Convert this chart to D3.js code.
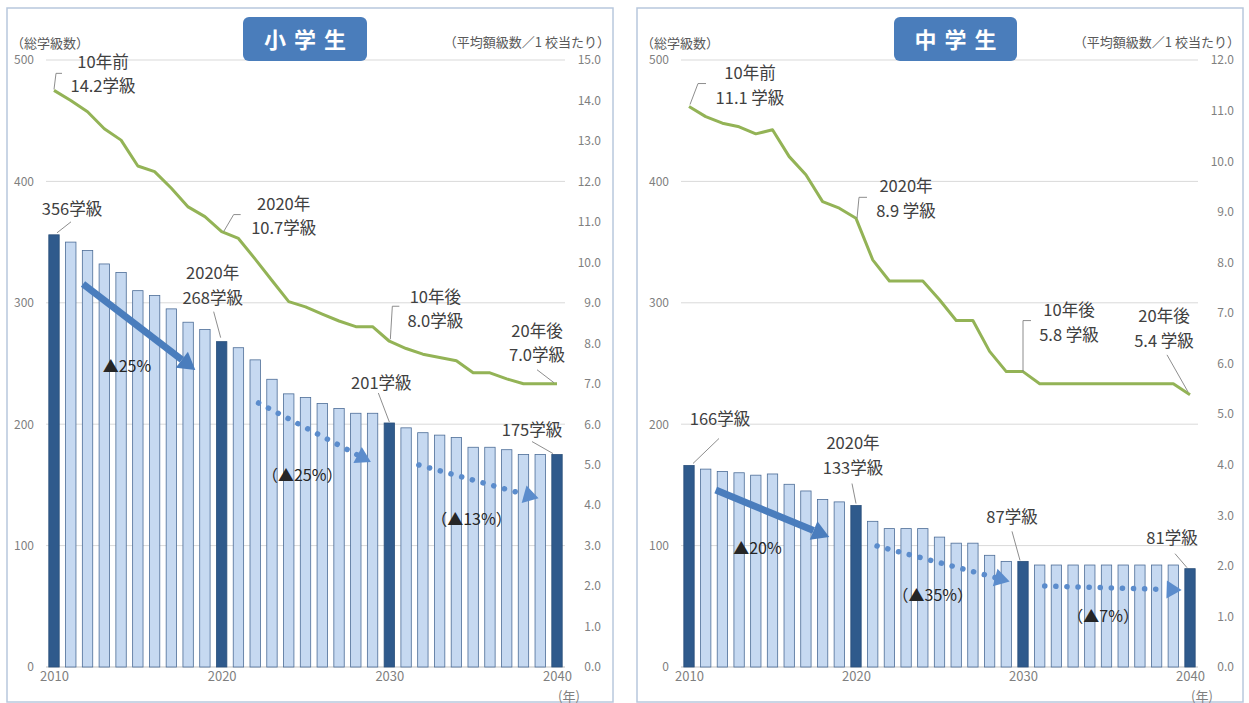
<!DOCTYPE html>
<html>
<head>
<meta charset="utf-8">
<script src="https://cdn.jsdelivr.net/npm/d3@7/dist/d3.min.js"></script>
<style>
  body { margin: 0; background: #fff; }
  svg text { font-family: "Noto Sans CJK JP", "Noto Sans", sans-serif; }
</style>
</head>
<body>
<svg id="chart" width="1249" height="703"></svg>
<script>
// ---- data ----
var years = [2010, 2011, 2012, 2013, 2014, 2015, 2016, 2017, 2018, 2019,
             2020, 2021, 2022, 2023, 2024, 2025, 2026, 2027, 2028, 2029,
             2030, 2031, 2032, 2033, 2034, 2035, 2036, 2037, 2038, 2039, 2040];

// 小学生: total classes (bars) and average classes per school (line)
var elemTotal = [356, 350, 343, 332, 325, 310, 306, 295, 284, 278,
                 268, 263, 253, 237, 225, 222, 217, 213, 209, 209,
                 201, 197, 193, 191, 189, 181, 181, 179, 175, 175, 175];
var elemAverage = [14.25, 14.0, 13.72, 13.3, 13.02, 12.38, 12.24, 11.83, 11.37, 11.13,
                   10.76, 10.59, 10.08, 9.55, 9.03, 8.9, 8.72, 8.55, 8.41, 8.41,
                   8.05, 7.87, 7.73, 7.65, 7.57, 7.27, 7.27, 7.12, 7.0, 7.0, 7.0];

// 中学生
var juniorTotal = [166, 163, 161, 160, 158, 159, 150.5, 145, 138, 136,
                   133, 120, 114, 114, 114, 107, 102, 102, 92, 87,
                   87, 84, 84, 84, 84, 84, 84, 84, 84, 84, 81];
var juniorAverage = [11.08, 10.88, 10.75, 10.68, 10.54, 10.62, 10.09, 9.73, 9.2, 9.07,
                     8.87, 8.05, 7.63, 7.63, 7.63, 7.26, 6.85, 6.85, 6.24, 5.84,
                     5.84, 5.6, 5.6, 5.6, 5.6, 5.6, 5.6, 5.6, 5.6, 5.6, 5.38];

var highlightYears = [2010, 2020, 2030, 2040];
var xTickYears = [2010, 2020, 2030, 2040];
var totalTicks = [0, 100, 200, 300, 400, 500];
var elemAvgTicks = [0, 1, 2, 3, 4, 5, 6, 7, 8, 9, 10, 11, 12, 13, 14, 15];
var juniorAvgTicks = [0, 1, 2, 3, 4, 5, 6, 7, 8, 9, 10, 11, 12];

// callout texts
var elemCallouts = [
  { year: 2010, on: "line", text: ["10年前", "14.2学級"] },
  { year: 2010, on: "bar",  text: ["356学級"] },
  { year: 2020, on: "bar",  text: ["2020年", "268学級"] },
  { year: 2020, on: "line", text: ["2020年", "10.7学級"] },
  { year: 2030, on: "line", text: ["10年後", "8.0学級"] },
  { year: 2040, on: "line", text: ["20年後", "7.0学級"] },
  { year: 2030, on: "bar",  text: ["201学級"] },
  { year: 2040, on: "bar",  text: ["175学級"] }
];
var juniorCallouts = [
  { year: 2010, on: "line", text: ["10年前", "11.1 学級"] },
  { year: 2020, on: "line", text: ["2020年", "8.9 学級"] },
  { year: 2030, on: "line", text: ["10年後", "5.8 学級"] },
  { year: 2040, on: "line", text: ["20年後", "5.4 学級"] },
  { year: 2010, on: "bar",  text: ["166学級"] },
  { year: 2020, on: "bar",  text: ["2020年", "133学級"] },
  { year: 2030, on: "bar",  text: ["87学級"] },
  { year: 2040, on: "bar",  text: ["81学級"] }
];

// trend arrows: [startYear, startTotal, endYear, endTotal], label and its spot
var elemTrends = [
  { from: [2011.73, 315.5], to: [2018.43, 244.6], dotted: false, label: "▲25%",   at: [2014.35, 249] },
  { from: [2022.2, 217.5],  to: [2028.9, 168.9],  dotted: true,  label: "（▲25%）", at: [2024.8, 159] },
  { from: [2031.76, 166.4], to: [2038.9, 139],    dotted: true,  label: "（▲13%）", at: [2034.9, 122.5] }
];
var juniorTrends = [
  { from: [2011.6, 145.8],  to: [2018.4, 107],    dotted: false, label: "▲20%",   at: [2014.1, 99] },
  { from: [2021.26, 99.7],  to: [2029.2, 70.5],   dotted: true,  label: "（▲35%）", at: [2024.6, 60.5] },
  { from: [2031.3, 66.7],   to: [2039.5, 63.5],   dotted: true,  label: "（▲7%）",  at: [2034.8, 42.5] }
];

// ---- layout (pixel offsets of the callouts from their anchor point) ----
var elemCalloutLayout = [
  { dx: 49,  dy: [-29, -5],    leader: [[0, -1], [2, -17], [8, -17]] },
  { dx: 18,  dy: [-27],        leader: [[3, -2], [17, -13]] },
  { dx: -9,  dy: [-70, -45],   leader: [[-1, -4], [-8, -30]] },
  { dx: 62,  dy: [-29, -5],    leader: [[2, 0], [12, -17], [19, -17]] },
  { dx: 46,  dy: [-45, -21],   leader: [[1, -2], [3, -35], [10, -35]] },
  { dx: -20, dy: [-54, -30],   leader: [[-3, -1], [-20, -14]] },
  { dx: -8,  dy: [-41],        leader: [[0, -1], [-11, -30]] },
  { dx: -25, dy: [-26],        leader: [[-4, -1], [-25, -13]] }
];
var juniorCalloutLayout = [
  { dx: 61,  dy: [-35, -10],   leader: [[1, -2], [9, -23], [17, -23]] },
  { dx: 50,  dy: [-33, -8],    leader: [[1, 0], [3, -21], [11, -21]] },
  { dx: 46,  dy: [-63, -38],   leader: [[0, 0], [0, -51], [8, -51]] },
  { dx: -26, dy: [-80, -55],   leader: [[-2, -3], [-23, -40]] },
  { dx: 31,  dy: [-47],        leader: [[4, -2], [30, -27]] },
  { dx: -3,  dy: [-64, -39],   leader: [[0, -2], [-4, -22]] },
  { dx: -11, dy: [-45],        leader: [[-3, -1], [-11, -30]] },
  { dx: -18, dy: [-32],        leader: [[-3, -1], [-15, -15]] }
];

var svg = d3.select("#chart");
svg.append("rect").attr("width", 1249).attr("height", 703).attr("fill", "#fff");

var panels = [
  { frame: [7, 8, 613, 702], xRange: [54, 557], title: "小学生", titleBox: [243, 17, 124, 44],
    total: elemTotal, average: elemAverage, avgMax: 15, avgTicks: elemAvgTicks,
    callouts: elemCallouts, layout: elemCalloutLayout, trends: elemTrends },
  { frame: [637, 8, 1243, 702], xRange: [689, 1190], title: "中学生", titleBox: [894, 17, 123, 44],
    total: juniorTotal, average: juniorAverage, avgMax: 12, avgTicks: juniorAvgTicks,
    callouts: juniorCallouts, layout: juniorCalloutLayout, trends: juniorTrends }
];

panels.forEach(drawPanel);

function drawPanel(p) {
  var g = svg.append("g");
  var top = 60, bottom = 667;

  // frame
  g.append("rect")
    .attr("x", p.frame[0]).attr("y", p.frame[1])
    .attr("width", p.frame[2] - p.frame[0]).attr("height", p.frame[3] - p.frame[1])
    .attr("fill", "#fff").attr("stroke", "#b8c8dd").attr("stroke-width", 1.5);

  var x = d3.scaleLinear().domain([years[0], years[years.length - 1]]).range(p.xRange);
  var yTotal = d3.scaleLinear().domain([0, 500]).range([bottom, top]);
  var yAvg = d3.scaleLinear().domain([0, p.avgMax]).range([bottom, top]);
  var step = x(years[1]) - x(years[0]);
  var barW = step * 0.62;
  var x0 = x(years[0]), x1 = x(years[years.length - 1]);

  // gridlines
  g.selectAll("line.grid")
    .data(totalTicks)
    .enter().append("line")
    .attr("x1", x0 - 8).attr("x2", x1 + 8)
    .attr("y1", function(d) { return yTotal(d); })
    .attr("y2", function(d) { return yTotal(d); })
    .attr("stroke", function(d) { return d === 0 ? "#bfbfbf" : "#d9d9d9"; })
    .attr("stroke-width", 1);

  // left axis (総学級数)
  var leftAxis = g.append("g")
    .attr("transform", "translate(" + (x0 - 20) + ",0)")
    .call(d3.axisLeft(yTotal).tickValues(totalTicks).tickSize(0).tickPadding(0));
  // right axis (平均学級数)
  var rightAxis = g.append("g")
    .attr("transform", "translate(" + (x1 + 44) + ",0)")
    .call(d3.axisRight(yAvg).tickValues(p.avgTicks).tickSize(0).tickPadding(0).tickFormat(d3.format(".1f")));
  rightAxis.selectAll("text").attr("text-anchor", "end");
  // bottom axis (years)
  var bottomAxis = g.append("g")
    .attr("transform", "translate(0," + bottom + ")")
    .call(d3.axisBottom(x).tickValues(xTickYears).tickSize(0).tickPadding(5).tickFormat(d3.format("d")));

  [leftAxis, rightAxis, bottomAxis].forEach(function(a) {
    a.select(".domain").remove();
    a.selectAll("text")
      .attr("fill", "#7f7f7f")
      .style("font-size", "12px")
      .style("font-family", "\"Noto Sans CJK JP\", sans-serif");
  });
  bottomAxis.selectAll("text").style("font-size", "13px");

  g.append("text")
    .attr("x", x1 + 12).attr("y", 695)
    .attr("text-anchor", "middle").attr("dominant-baseline", "central")
    .attr("fill", "#7f7f7f").style("font-size", "13px")
    .text("(年)");

  // bars
  g.selectAll("rect.bar")
    .data(years)
    .enter().append("rect")
    .attr("class", "bar")
    .attr("x", function(d) { return x(d) - barW / 2; })
    .attr("width", barW)
    .attr("y", function(d, i) { return yTotal(p.total[i]); })
    .attr("height", function(d, i) { return bottom - yTotal(p.total[i]); })
    .attr("fill", function(d) { return highlightYears.indexOf(d) >= 0 ? "#2f5a8c" : "#c6d9f1"; })
    .attr("stroke", function(d) { return highlightYears.indexOf(d) >= 0 ? "#2a4f7a" : "#4d6d97"; })
    .attr("stroke-width", 0.8);

  // average line
  var line = d3.line()
    .x(function(d, i) { return x(years[i]); })
    .y(function(d) { return yAvg(d); });
  g.append("path")
    .datum(p.average)
    .attr("d", line)
    .attr("fill", "none")
    .attr("stroke", "#93b356")
    .attr("stroke-width", 3)
    .attr("stroke-linejoin", "round");

  // trend arrows
  p.trends.forEach(function(t) {
    drawArrow(g, x(t.from[0]), yTotal(t.from[1]), x(t.to[0]), yTotal(t.to[1]), t.dotted);
    g.append("text")
      .attr("x", x(t.at[0])).attr("y", yTotal(t.at[1]))
      .attr("text-anchor", "middle").attr("dominant-baseline", "central")
      .attr("fill", "#262626").style("font-size", "16px")
      .text(t.label);
  });

  // callouts
  p.callouts.forEach(function(c, i) {
    var idx = years.indexOf(c.year);
    var ax = x(c.year);
    var ay = c.on === "bar" ? yTotal(p.total[idx]) : yAvg(p.average[idx]);
    var lay = p.layout[i];
    var pts = lay.leader.map(function(o) { return [ax + o[0], ay + o[1]]; });
    g.append("path")
      .attr("d", d3.line()(pts))
      .attr("fill", "none").attr("stroke", "#808080").attr("stroke-width", 0.9);
    c.text.forEach(function(s, k) {
      g.append("text")
        .attr("x", ax + lay.dx).attr("y", ay + lay.dy[k])
        .attr("text-anchor", "middle").attr("dominant-baseline", "central")
        .attr("fill", "#404040").style("font-size", "16.5px")
        .text(s);
    });
  });

  // headers
  g.append("text")
    .attr("x", p.frame[0] + 4).attr("y", 42)
    .attr("dominant-baseline", "central")
    .attr("fill", "#595959").style("font-size", "13px")
    .text("（総学級数）");
  g.append("text")
    .attr("x", p.frame[2] - 3).attr("y", 41)
    .attr("text-anchor", "end").attr("dominant-baseline", "central")
    .attr("fill", "#595959").style("font-size", "13px")
    .text("（平均額級数／1 校当たり）");

  // title box
  var tb = p.titleBox;
  g.append("rect")
    .attr("x", tb[0]).attr("y", tb[1]).attr("width", tb[2]).attr("height", tb[3])
    .attr("rx", 6).attr("fill", "#4a7dbb");
  g.append("text")
    .attr("x", tb[0] + tb[2] / 2 + 4).attr("y", tb[1] + tb[3] / 2 - 1)
    .attr("text-anchor", "middle").attr("dominant-baseline", "central")
    .attr("fill", "#fff").style("font-size", "22px").style("font-weight", "bold")
    .style("letter-spacing", "8px")
    .text(p.title);
}

// Draw a thick (or dotted) arrow ending in a triangle head
function drawArrow(g, xa, ya, xb, yb, dotted) {
  var color = dotted ? "#5b8ccc" : "#4a7dbd";
  var ang = Math.atan2(yb - ya, xb - xa);
  var headLen = dotted ? 15 : 17, headHalf = dotted ? 9 : 10;
  var bx = xb - headLen * Math.cos(ang), by = yb - headLen * Math.sin(ang);
  var shaft = g.append("line")
    .attr("x1", xa).attr("y1", ya).attr("x2", bx).attr("y2", by)
    .attr("stroke", color);
  if (dotted) {
    shaft.attr("stroke-width", 5.5).attr("stroke-linecap", "round").attr("stroke-dasharray", "0.1,11");
  } else {
    shaft.attr("stroke-width", 7);
  }
  var px = -Math.sin(ang), py = Math.cos(ang);
  var head = [[xb, yb], [bx + px * headHalf, by + py * headHalf], [bx - px * headHalf, by - py * headHalf]];
  g.append("path")
    .attr("d", "M" + head.map(function(h) { return h.join(","); }).join("L") + "Z")
    .attr("fill", color);
}
</script>
</body>
</html>
